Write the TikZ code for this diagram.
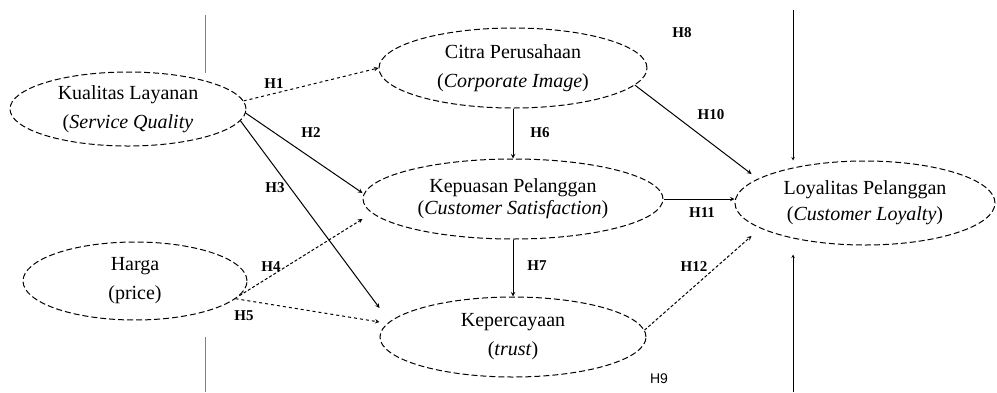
\documentclass[tikz,border=0pt]{standalone}
\usepackage{fontspec}
\setmainfont{Liberation Serif}
\setsansfont{Liberation Sans}
\usetikzlibrary{shapes.geometric}
\tikzset{
  latent/.style={ellipse,draw,dash pattern=on 6pt off 3pt,line width=1pt,
    inner sep=0pt,align=center,font=\fontsize{20}{29}\selectfont},
  hlab/.style={font=\fontsize{15}{18}\selectfont\bfseries},
}
\begin{document}
\begin{tikzpicture}[x=1pt,y=-1pt,>=stealth]
      \useasboundingbox (0,0) rectangle (997,392);
      \draw
        (128,109) node[latent,minimum width=236,minimum height=74] (kl){Kualitas Layanan\\(\textit{Service Quality}}
        (135,281) node[latent,minimum width=224,minimum height=78] (hg){Harga\\(price)}
        (513,68) node[latent,minimum width=268,minimum height=80] (cp){Citra Perusahaan\\(\textit{Corporate Image})}
        (513,199) node[latent,minimum width=300,minimum height=80,font=\fontsize{20}{22}\selectfont] (kp){Kepuasan Pelanggan\\(\textit{Customer Satisfaction})}
        (513,337) node[latent,minimum width=266,minimum height=80] (kc){Kepercayaan\\(\textit{trust})}
        (865,203) node[latent,minimum width=260,minimum height=84,font=\fontsize{20}{26}\selectfont] (ly){Loyalitas Pelanggan\\(\textit{Customer Loyalty})};
      \coordinate (t8) at (793,10);
      \coordinate (b9) at (793,392);
      \draw[gray,line width=0.6pt] (205,15) -- (205,73) (205,337) -- (205,392);
      \node[hlab] (h1) at (274,84) {H1};
      \node[hlab] (h2) at (311,133) {H2};
      \node[hlab] (h3) at (275,188) {H3};
      \node[hlab] (h4) at (271,267) {H4};
      \node[hlab] (h5) at (244,316) {H5};
      \node[hlab] (h6) at (540,133) {H6};
      \node[hlab] (h7) at (537,266) {H7};
      \node[hlab] (h8) at (682,33) {H8};
      \node[hlab] (h10) at (711,115) {H10};
      \node[hlab] (h11) at (702,213) {H11};
      \node[hlab] (h12) at (694,267) {H12};
      \node[font=\fontsize{14}{16}\selectfont\sffamily] (h9) at (659,379) {H9};
      \begin{scope}[->,line width=1pt]
        \draw[dashed] (kl.4) to (cp.west);
        \draw (kl.-2) to ([yshift=6pt]kp.west);
        \draw (kl.-6) to ([yshift=29pt]kc.west);
        \draw[densely dashed] (hg.-8) to ([yshift=-20pt]kp.west);
        \draw[dashed] (hg.-10) to ([yshift=15pt]kc.west);
        \draw (cp.south) to (kp.north);
        \draw (kp.south) to (kc.north);
        \draw (cp.-8) to ([shift={(17pt,29pt)}]ly.west);
        \draw (kp.east) to (kp.east -| ly.west);
        \draw[densely dashed] (kc.3) to ([shift={(17pt,-33pt)}]ly.west);
        \draw[line width=0.6pt] (t8) to (t8 |- ly.north);
        \draw[line width=0.6pt,shorten >=9pt] (b9) to (b9 |- ly.south);
      \end{scope}
    \end{tikzpicture}
\end{document}
